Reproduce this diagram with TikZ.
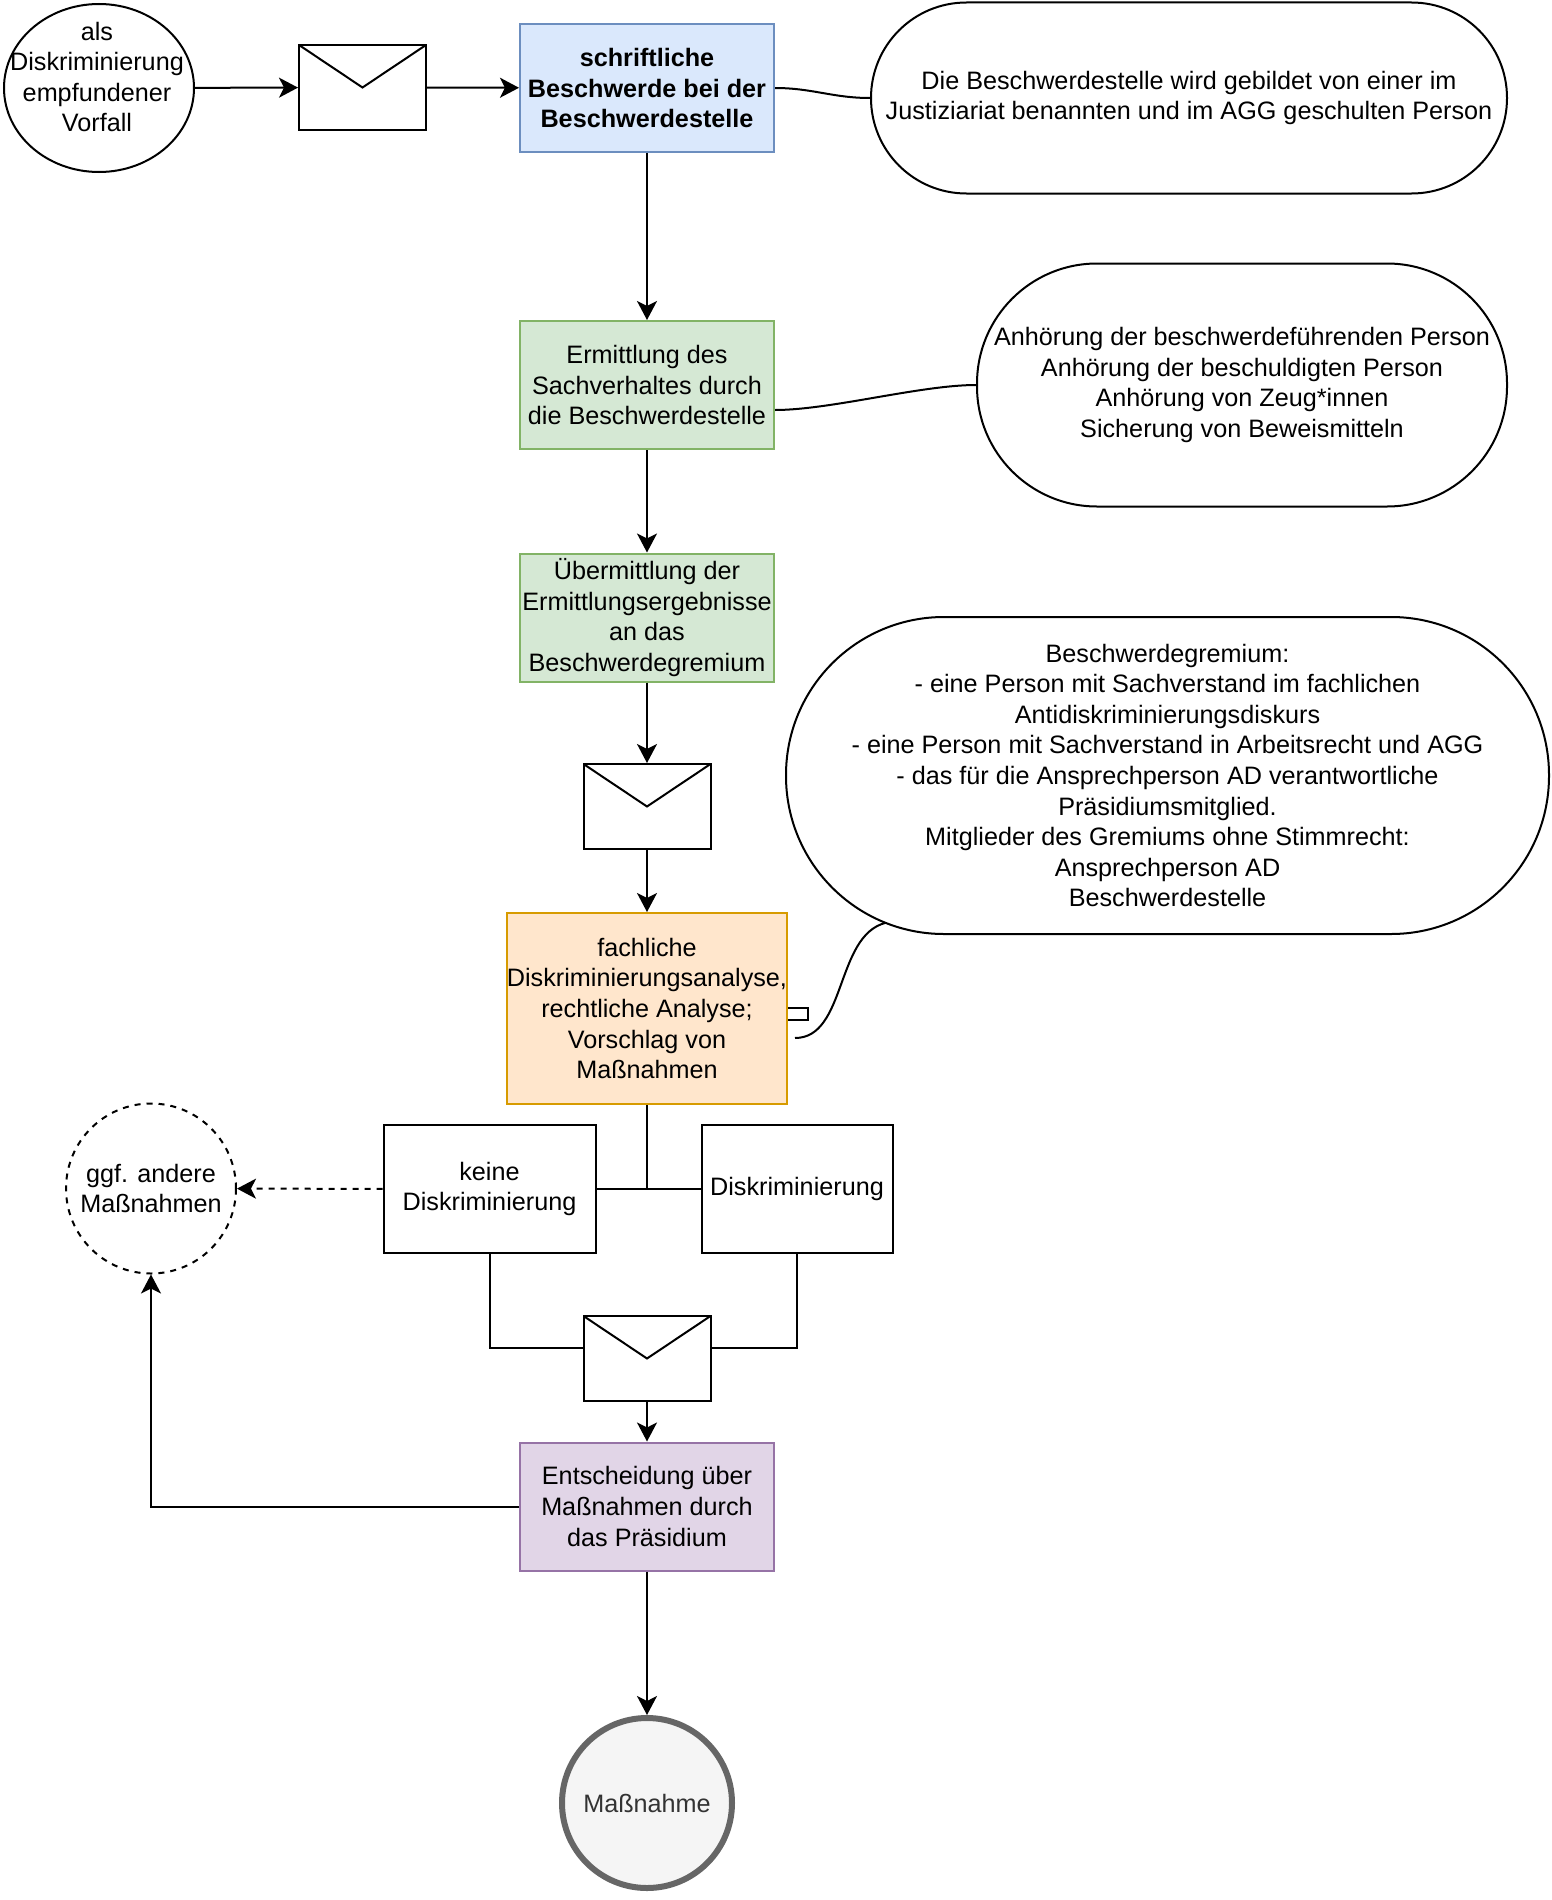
\documentclass[tikz,border=0pt]{standalone}
\usepackage{fontspec}
\setmainfont{Liberation Sans}
\usetikzlibrary{arrows.meta,shapes.geometric}
\tikzset{
  label/.style={align=center,inner sep=0pt,font=\fontsize{12.6}{15.3}\selectfont},
  base/.style={label,draw,line width=1pt},
  flowbox/.style={base,rectangle,minimum width=127pt,minimum height=64pt},
  bluebox/.style={flowbox,fill=bluefill,draw=blueline},
  greenbox/.style={flowbox,fill=greenfill,draw=greenline},
  plain/.style={base,rectangle,minimum height=64pt},
  pill/.style={base,rectangle,rounded corners=#1},
  envelope/.style={draw,line width=1pt,minimum width=63.5pt,minimum height=42.5pt,inner sep=0pt,
    path picture={\draw[line width=1pt] (path picture bounding box.north west)
      -- (path picture bounding box.center) -- (path picture bounding box.north east);}},
  arrow/.style={line width=1pt,-{Stealth[length=9.5pt,width=10pt,inset=2.5pt]}},
  conn/.style={line width=1pt}
}
\definecolor{bluefill}{HTML}{DAE8FC}
\definecolor{blueline}{HTML}{6C8EBF}
\definecolor{greenfill}{HTML}{D5E8D4}
\definecolor{greenline}{HTML}{82B366}
\definecolor{orangefill}{HTML}{FFE6CC}
\definecolor{orangeline}{HTML}{D79B00}
\definecolor{purplefill}{HTML}{E1D5E7}
\definecolor{purpleline}{HTML}{9673A6}
\begin{document}
\begin{tikzpicture}[x=0.5pt,y=-0.5pt]
        \useasboundingbox (0,0) rectangle (1552,1900);

        \node[base,ellipse,minimum width=95pt,minimum height=84pt] (vorfall) at (99,88) {};
        \node[label] (vorfalltext) at (97,77) {als\\Diskriminierung\\empfundener\\Vorfall};
        \node[envelope] (brief) at (362.5,87.5) {};
        \node[bluebox] (beschwerde) at (647,88)
              {\bfseries schriftliche\\\bfseries Beschwerde bei der\\\bfseries Beschwerdestelle};
        \node[pill=47.7pt,minimum width=318pt,minimum height=95.5pt] (stelle) at (1189,98)
              {Die Beschwerdestelle wird gebildet von einer im\\Justiziariat benannten und im AGG geschulten Person};

        \node[greenbox] (ermittlung) at (647,385)
              {Ermittlung des\\Sachverhaltes durch\\die Beschwerdestelle};
        \node[pill=60pt,minimum width=265pt,minimum height=121.5pt] (anhoerung) at (1242,385)
              {Anhörung der beschwerdeführenden Person\\Anhörung der beschuldigten Person\\Anhörung von Zeug*innen\\Sicherung von Beweismitteln};

        \node[greenbox] (uebermittlung) at (647,617.5)
              {Übermittlung der\\Ermittlungsergebnisse\\an das\\Beschwerdegremium};
        \node[envelope] (briefzwei) at (647,806.5) {};

        \node[pill=79pt,minimum width=381.5pt,minimum height=158.5pt] (gremium) at (1167.5,775.5)
              {Beschwerdegremium:\\- eine Person mit Sachverstand im fachlichen\\Antidiskriminierungsdiskurs\\- eine Person mit Sachverstand in Arbeitsrecht und AGG\\- das für die Ansprechperson AD verantwortliche\\Präsidiumsmitglied.\\Mitglieder des Gremiums ohne Stimmrecht:\\Ansprechperson AD\\Beschwerdestelle};

        \node[base,rectangle,minimum width=10.5pt,minimum height=6pt] (lasche) at (797.5,1014) {};
        \node[base,rectangle,fill=orangefill,draw=orangeline,minimum width=140pt,minimum height=95.5pt] (analyse) at (647,1008.5)
              {fachliche\\Diskriminierungsanalyse,\\rechtliche Analyse;\\Vorschlag von\\Maßnahmen};

        \node[plain,minimum width=106pt] (keine) at (489.5,1189) {keine\\Diskriminierung};
        \node[plain,minimum width=95.5pt] (diskr) at (797,1189) {Diskriminierung};
        \node[base,circle,dashed,minimum size=85pt] (andere) at (151,1188.5) {ggf. andere\\Maßnahmen};
        \node[envelope] (briefdrei) at (647,1358.5) {};

        \node[flowbox,fill=purplefill,draw=purpleline] (entscheidung) at (647,1506.5)
              {Entscheidung über\\Maßnahmen durch\\das Präsidium};
        \node[base,circle,fill=black!4,draw=black!60,line width=3pt,text=black!80,minimum size=85pt] (massnahme) at (647,1803) {Maßnahme};

        \coordinate (kurveA) at (795,1038);
        \coordinate (kurveB) at (885,923);
        \coordinate (knoten) at (647,1189);

        \draw[arrow] (vorfall) -- (brief);
        \draw[arrow] (brief) -- (beschwerde);
        \draw[conn] (beschwerde.east) to[out=0,in=180] (stelle.west);
        \draw[arrow] (beschwerde) -- (ermittlung);
        \draw[conn] ([yshift=-12.5pt]ermittlung.east) to[out=0,in=180,looseness=0.7] (anhoerung.west);
        \draw[arrow] (ermittlung) -- (uebermittlung);
        \draw[arrow] (uebermittlung) -- (briefzwei);
        \draw[arrow] (briefzwei) -- (analyse);
        \draw[conn] (kurveA) to[out=0,in=195,looseness=0.9] (kurveB);
        \draw[conn] (analyse.south) -- (knoten);
        \draw[conn] (keine) -- (diskr);
        \draw[arrow,dashed] (keine) -- (andere);
        \draw[conn] (keine.south) |- ([yshift=5.5pt]briefdrei.west);
        \draw[conn] (diskr.south) |- ([yshift=5.5pt]briefdrei.east);
        \draw[arrow] (briefdrei) -- (entscheidung);
        \draw[arrow] (entscheidung.west) -| (andere.south);
        \draw[arrow] (entscheidung) -- (massnahme);
\end{tikzpicture}
\end{document}
